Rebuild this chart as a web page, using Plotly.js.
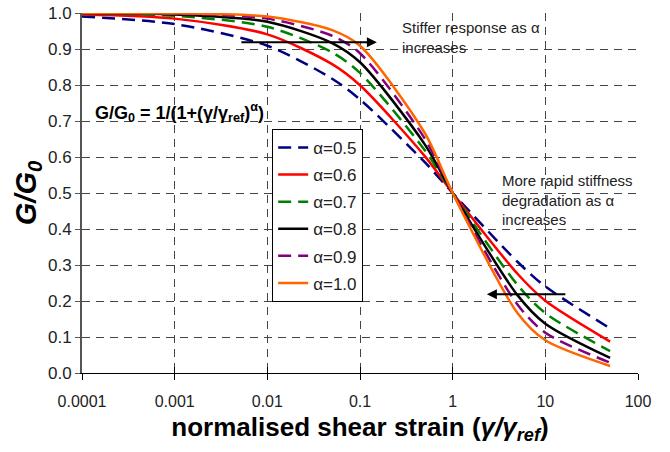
<!DOCTYPE html>
<html>
<head>
<meta charset="utf-8">
<script src="https://cdn.plot.ly/plotly-3.0.1.min.js"></script>
<style>html,body{margin:0;padding:0;background:#fff;}#chart{width:670px;height:452px;}</style>
</head>
<body>
<div id="chart"></div>
<script>
// normalised shear strain (γ/γref)
const strain = [0.0001, 0.001, 0.01, 0.05, 0.1, 0.5, 1, 5, 10, 50];
// G/G0 for each α
const g_a05 = [0.9901, 0.9693, 0.9091, 0.8173, 0.7597, 0.5858, 0.5, 0.3090, 0.2403, 0.1239];
const g_a06 = [0.9960, 0.9844, 0.9406, 0.8579, 0.7992, 0.6025, 0.5, 0.2757, 0.2008, 0.0873];
const g_a07 = [0.9984, 0.9921, 0.9617, 0.8907, 0.8337, 0.6190, 0.5, 0.2448, 0.1663, 0.0607];
const g_a08 = [0.9994, 0.9960, 0.9755, 0.9166, 0.8632, 0.6352, 0.5, 0.2163, 0.1368, 0.0419];
const g_a09 = [0.9997, 0.9980, 0.9844, 0.9368, 0.8882, 0.6511, 0.5, 0.1902, 0.1118, 0.0287];
const g_a10 = [0.9999, 0.9990, 0.9901, 0.9524, 0.9091, 0.6667, 0.5, 0.1667, 0.0909, 0.0196];
const seriesNames = ["α=0.5", "α=0.6", "α=0.7", "α=0.8", "α=0.9", "α=1.0"];
const xTickVals = [0.0001, 0.001, 0.01, 0.1, 1, 10, 100];
const xTickText = ["0.0001", "0.001", "0.01", "0.1", "1", "10", "100"];
const yTickVals = [0, 0.1, 0.2, 0.3, 0.4, 0.5, 0.6, 0.7, 0.8, 0.9, 1.0];

const ys = [g_a05, g_a06, g_a07, g_a08, g_a09, g_a10];
const styles = [
  {color: "#000080", dash: "13px,7px"},
  {color: "#ff0000", dash: "solid"},
  {color: "#008000", dash: "13px,7px"},
  {color: "#000000", dash: "solid"},
  {color: "#800080", dash: "13px,7px"},
  {color: "#ff6600", dash: "solid"}
];
const traces = ys.map((y, i) => ({
  x: strain, y: y, name: seriesNames[i], type: "scatter", mode: "lines",
  legendgroup: "g" + i,
  line: {color: styles[i].color, dash: styles[i].dash, width: 2.5, shape: "spline", smoothing: 0.8},
  xaxis: "x", yaxis: "y"
}));
// helper trace for the inner tick marks on x axis
traces.push({x: [0.0001], y: [0], xaxis: "x2", yaxis: "y", mode: "markers", marker: {opacity: 0}, showlegend: false, hoverinfo: "skip"});

const font = "Arial, 'Liberation Sans', sans-serif";
const layout = {
  width: 670, height: 452,
  margin: {l: 82, r: 32, t: 13, b: 79},
  paper_bgcolor: "#fff", plot_bgcolor: "#fff",
  font: {family: font, color: "#222", size: 16},
  showlegend: true,
  legend: {
    x: 0.342, y: 0.678, xanchor: "left", yanchor: "top",
    bgcolor: "#fff", bordercolor: "#000", borderwidth: 1,
    font: {family: font, size: 17, color: "#222"},
    tracegroupgap: 2
  },
  xaxis: {
    type: "log", range: [-4, 2],
    tickvals: xTickVals, ticktext: xTickText,
    ticks: "outside", ticklen: 6, tickcolor: "#000",
    ticklabelstandoff: 8,
    showline: true, linecolor: "#000", linewidth: 1,
    showgrid: true, gridcolor: "#444", griddash: "8px,6px", gridwidth: 1,
    zeroline: false,
    tickfont: {family: font, size: 16, color: "#222"},
    title: {text: "<b>normalised shear strain (<i>γ/γ<sub>ref</sub></i>)</b>", font: {family: font, size: 26, color: "#000"}, standoff: 8}
  },
  xaxis2: {
    type: "log", range: [-4, 2], overlaying: "x", anchor: "y",
    tickvals: xTickVals, showticklabels: false,
    ticks: "inside", ticklen: 6, tickcolor: "#000",
    showgrid: false, zeroline: false, showline: false
  },
  yaxis: {
    range: [0, 1.0],
    tickvals: yTickVals, tickformat: ".1f",
    ticks: "outside", ticklen: 5, tickcolor: "#555",
    showline: true, linecolor: "#555", linewidth: 2,
    showgrid: true, gridcolor: "#444", griddash: "8px,6px", gridwidth: 1,
    zeroline: false,
    tickfont: {family: font, size: 17, color: "#222"},
    title: {text: "<b><i>G/G<sub>0</sub></i></b>", font: {family: font, size: 29, color: "#000"}, standoff: 3}
  },
  annotations: [
    {xref: "paper", yref: "paper", x: 0.02, y: 0.725, xanchor: "left", yanchor: "middle",
     text: "<b>G/G<sub>0</sub> = 1/(1+(γ/γ<sub>ref</sub>)<sup>α</sup>)</b>", showarrow: false,
     font: {family: font, size: 18, color: "#000"}},
    {xref: "paper", yref: "paper", x: 0.572, y: 0.99, xanchor: "left", yanchor: "top", align: "left",
     text: "Stiffer response as α<br>increases", showarrow: false,
     font: {family: font, size: 15, color: "#222"}},
    {xref: "paper", yref: "paper", x: 0.752, y: 0.565, xanchor: "left", yanchor: "top", align: "left",
     text: "More rapid stiffness<br>degradation as α<br>increases", showarrow: false,
     font: {family: font, size: 15, color: "#222"}},
    {xref: "x", yref: "y", axref: "x", ayref: "y", x: -0.818, y: 0.919, ax: -2.296, ay: 0.919,
     text: "", showarrow: true, arrowhead: 2, arrowsize: 1, arrowwidth: 2, arrowcolor: "#000"},
    {xref: "x", yref: "y", axref: "x", ayref: "y", x: 0.369, y: 0.219, ax: 1.232, ay: 0.219,
     text: "", showarrow: true, arrowhead: 2, arrowsize: 1, arrowwidth: 2, arrowcolor: "#000"}
  ]
};
Plotly.newPlot("chart", traces, layout, {displayModeBar: false, staticPlot: true});
</script>
</body>
</html>
